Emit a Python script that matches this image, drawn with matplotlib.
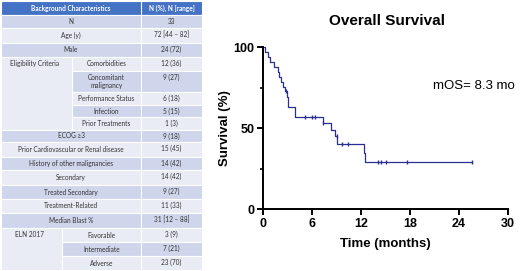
import numpy as np
import matplotlib
matplotlib.use('Agg')
from matplotlib import pyplot as plt
from matplotlib.patches import Rectangle

# ---- table data ----
header_left = 'Background Characteristics'
header_right = 'N (%), N [range]'
row_groups = ['', '', '', 'Eligibility Criteria', 'Eligibility Criteria', 'Eligibility Criteria',
              'Eligibility Criteria', 'Eligibility Criteria', '', '', '', '', '', '', '',
              'ELN 2017', 'ELN 2017', 'ELN 2017']
row_labels = ['N', 'Age (y)', 'Male', 'Comorbidities', 'Concomitant\nmalignancy',
              'Performance Status', 'Infection', 'Prior Treatments', 'ECOG \u22653',
              'Prior Cardiovascular or Renal disease', 'History of other malignancies',
              'Secondary', 'Treated Secondary', 'Treatment-Related', 'Median Blast %',
              'Favorable', 'Intermediate', 'Adverse']
row_values = ['33', '72 [44 \u2013 82]', '24 (72)', '12 (36)', '9 (27)', '6 (18)', '5 (15)',
              '1 (3)', '9 (18)', '15 (45)', '14 (42)', '14 (42)', '9 (27)', '11 (33)',
              '31 [12 \u2013 88]', '3 (9)', '7 (21)', '23 (70)']

# ---- survival data (months) ----
event_times = [0.25, 0.6, 0.9, 1.4, 1.8, 2.0, 2.2, 2.5, 2.7, 2.9, 3.0, 3.1,
               3.9, 3.9, 7.3, 8.3, 8.8, 9.1, 12.4, 12.5]
censor_times = [2.8, 5.1, 6.0, 6.4, 7.4, 9.0, 9.7, 10.45, 14.1, 14.4, 15.06, 17.67, 25.55]
median_os = 'mOS= 8.3 mo'

# layout of table rows (pixel edges)
row_edges = [15, 28, 43, 57, 71, 92, 105, 117, 130, 142, 157, 170, 185, 199, 213, 228, 242, 256, 270]
dark = '#CFD5EA'
light = '#E9EBF5'
head = '#4472C4'
txt = '#333333'
tfont = ['Lato', 'DejaVu Sans']

fig = plt.figure(figsize=(5.2, 2.71), dpi=100)
fig.patch.set_facecolor('white')

tab = fig.add_axes([0, 0, 1, 1])
tab.set_xlim(0, 520)
tab.set_ylim(271, 0)
tab.axis('off')

x0, xs_elig, xs_eln, xv, x1 = 1, 72, 62, 141, 202
fs = 4.7

tab.add_patch(Rectangle((x0, 1), x1 - x0, 14, fc=head, ec='white', lw=0.8))
tab.plot([xv, xv], [1, 15], color='white', lw=0.8)
tab.text((x0 + xv) / 2, 8, header_left, ha='center', va='center', color='white',
         fontsize=fs, fontweight='bold', family=tfont)
tab.text((xv + x1) / 2, 8, header_right, ha='center', va='center', color='white',
         fontsize=fs, fontweight='bold', family=tfont)

for i, (grp, lab, val) in enumerate(zip(row_groups, row_labels, row_values)):
    top, bot = row_edges[i], row_edges[i + 1]
    color = dark if i % 2 == 0 else light
    if grp:
        xs = xs_elig if grp.startswith('Elig') else xs_eln
        tab.add_patch(Rectangle((xs, top), x1 - xs, bot - top, fc=color, ec='white', lw=0.8))
        tab.text((xs + xv) / 2, (top + bot) / 2, lab, ha='center', va='center', color=txt,
                 fontsize=fs, family=tfont, linespacing=1.1)
        if i == 0 or row_groups[i - 1] != grp:
            n = row_groups.count(grp)
            gbot = row_edges[i + n]
            tab.add_patch(Rectangle((x0, top), xs - x0, gbot - top, fc=light, ec='white', lw=0.8))
            tab.text((x0 + xs) / 2 - 2, top + 6.5, grp, ha='center', va='center', color=txt,
                     fontsize=fs, family=tfont)
    else:
        tab.add_patch(Rectangle((x0, top), x1 - x0, bot - top, fc=color, ec='white', lw=0.8))
        tab.text((x0 + xv) / 2, (top + bot) / 2, lab, ha='center', va='center', color=txt,
                 fontsize=fs, family=tfont)
    tab.plot([xv, xv], [top, bot], color='white', lw=0.8)
    tab.text((xv + x1) / 2, top + 6.7, val, ha='center', va='center', color=txt,
             fontsize=fs, family=tfont)

# ---- Kaplan-Meier ----
ev = np.array(event_times)
ce = np.array(censor_times)
times = np.unique(np.concatenate([ev, ce]))
n = len(ev) + len(ce)
s = 1.0
xs_km, ys_km = [0.0], [100.0]
surv_at = {}
at_risk = n
for t in times:
    d = np.sum(ev == t)
    c = np.sum(ce == t)
    if d:
        s *= (at_risk - d) / at_risk
        xs_km.append(t)
        ys_km.append(s * 100)
    surv_at[t] = s * 100
    at_risk -= d + c
xs_km.append(ce.max())
ys_km.append(s * 100)

ax = fig.add_axes([263 / 520, 1 - 209.3 / 271, 245 / 520, 162 / 271])
line_c = '#2B2F8F'
ax.step(xs_km, ys_km, where='post', color=line_c, lw=0.9)
ax.plot(ce, [surv_at[t] for t in ce], ls='none', marker='|', ms=3.5, mew=1.0, color=line_c)

ax.set_xlim(0, 30)
ax.set_ylim(0, 100)
ax.set_xticks([0, 6, 12, 18, 24, 30])
ax.set_yticks([0, 50, 100])
ax.set_yticks([25, 75], minor=True)
for sp in ['top', 'right']:
    ax.spines[sp].set_visible(False)
for sp in ['left', 'bottom']:
    ax.spines[sp].set_linewidth(1.4)
ax.tick_params(which='major', length=4, width=1.4, labelsize=9, pad=2)
ax.tick_params(which='minor', length=2.5, width=1.2)
for lbl in ax.get_xticklabels() + ax.get_yticklabels():
    lbl.set_fontweight('bold')
    lbl.set_family('Liberation Sans')
ax.set_xlabel('Time (months)', fontsize=9.5, fontweight='bold', family='Liberation Sans', labelpad=6)
ax.set_ylabel('Survival (%)', fontsize=9.5, fontweight='bold', family='Liberation Sans', labelpad=2)
ax.text(20.8, 76.3, median_os, fontsize=9.5, va='center', family='Liberation Sans')

fig.text(386.7 / 520, 1 - 20.7 / 271, 'Overall Survival', ha='center', va='center',
         fontsize=11, fontweight='bold', family='Liberation Sans')

fig.savefig('out.png', dpi=100)
